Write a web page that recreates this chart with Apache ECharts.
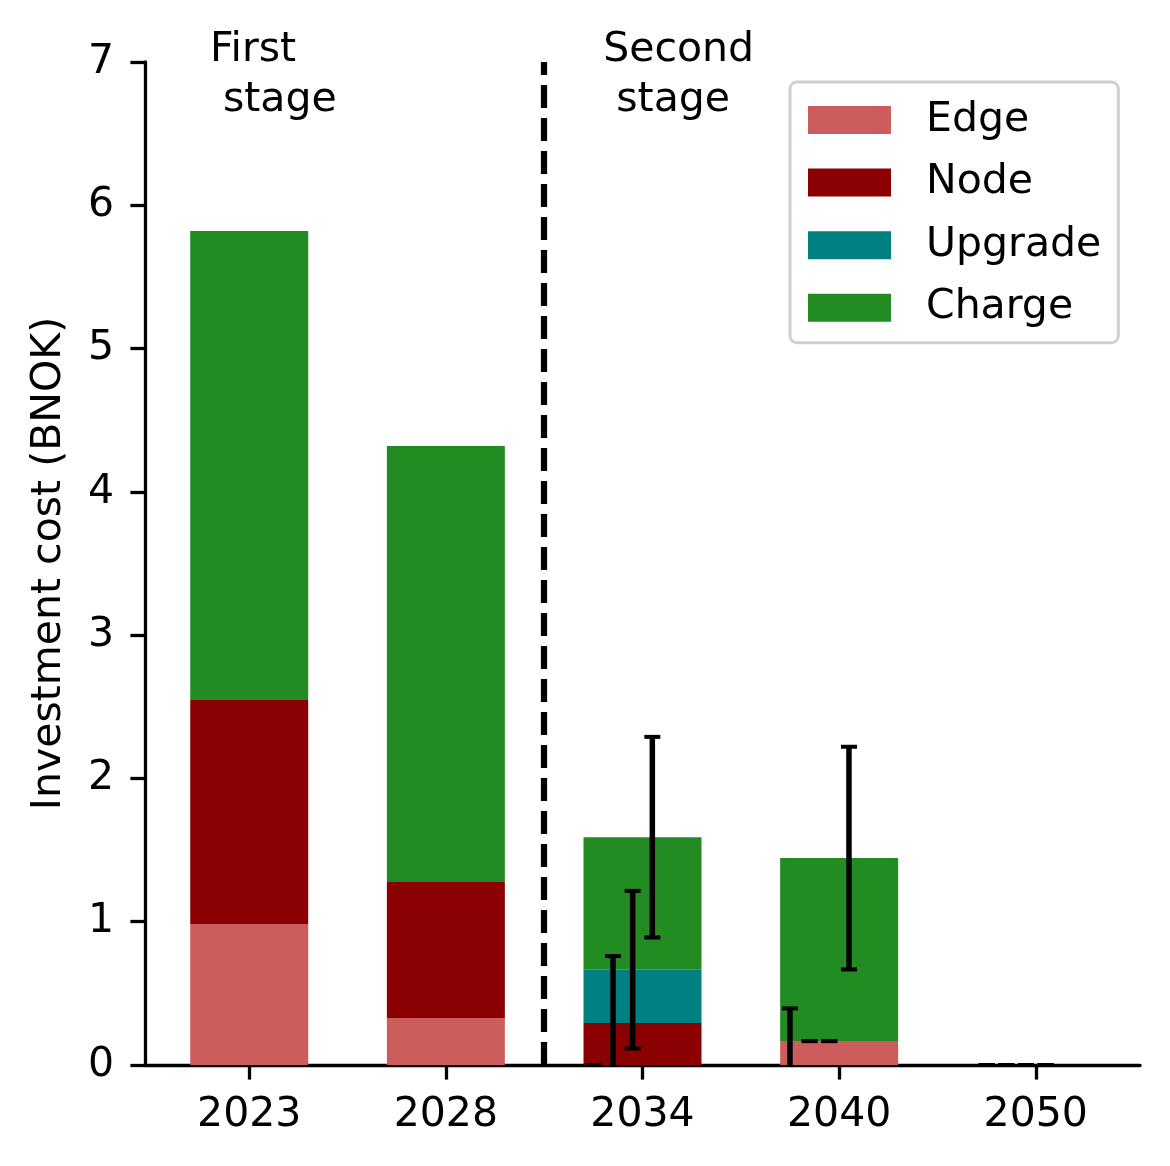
<!DOCTYPE html>
<html><head><meta charset="utf-8">
<script src="https://cdn.jsdelivr.net/npm/echarts@6/dist/echarts.min.js"></script>
<style>html,body{margin:0;padding:0;background:#fff}#c{width:1170px;height:1166px}</style>
</head><body><div id="c"></div>
<script>
// ---- data ----
const years = ['2023', '2028', '2034', '2040', '2050'];
const edge = [0.984, 0.328, 0, 0.167, 0];
const node = [1.563, 0.949, 0.293, 0, 0];
const upgrade = [0, 0, 0.372, 0, 0];
const charge = [3.273, 3.043, 0.925, 1.277, 0];
// standard deviations (second stage only)
const edgeStd = [null, null, 0, 0.228, 0];
const nodeStd = [null, null, 0.467, 0, 0];
const upgradeStd = [null, null, 0.55, 0, 0];
const chargeStd = [null, null, 0.70, 0.777, 0];
const seriesNames = ['Edge', 'Node', 'Upgrade', 'Charge'];
const stageBoundary = 1.5;
const stageLabels = ['First\n stage', 'Second\n stage'];
const stageLabelX = [-0.2, 1.8];
const stageLabelY = [7.255, 7.255];

// ---- styling ----
const FONT = 'DejaVu Sans';
const colors = ['#CD5C5C', '#8B0000', '#008080', '#228B22'];
const errOffsets = [-0.25, -0.15, -0.05, 0.05];
const barFrac = 0.6;

const comps = [edge, node, upgrade, charge];
const stds = [edgeStd, nodeStd, upgradeStd, chargeStd];
function cumBelow(k, i) { let c = 0; for (let j = 0; j < k; j++) c += comps[j][i]; return c; }

const errData = [];
for (let k = 0; k < 4; k++) {
  for (let i = 0; i < years.length; i++) {
    if (stds[k][i] === null) continue;
    errData.push([i + errOffsets[k], cumBelow(k, i) + comps[k][i], stds[k][i]]);
  }
}

const chart = echarts.init(document.getElementById('c'), null, {renderer: 'canvas'});

const barSeries = seriesNames.map((n, k) => ({
  name: n, type: 'custom', z: 2, silent: true,
  itemStyle: {color: colors[k]},
  encode: {x: 0, y: [1, 2]},
  data: comps[k].map((v, i) => [i, cumBelow(k, i), cumBelow(k, i) + v]),
  renderItem: (params, api) => {
    const x = api.value(0);
    const b = api.coord([x, api.value(1)]);
    const t = api.coord([x, api.value(2)]);
    const w = api.size([barFrac, 0])[0];
    if (Math.abs(b[1] - t[1]) < 0.01) return null;
    return {type: 'rect', shape: {x: b[0] - w / 2, y: t[1], width: w, height: b[1] - t[1]},
      style: {fill: colors[k]}};
  }
}));
barSeries[3].markLine = {
  symbol: 'none', silent: true, label: {show: false},
  lineStyle: {type: [23, 10], width: 6.25, color: '#000'},
  data: [{xAxis: stageBoundary}]
};

chart.setOption({
  animation: false,
  backgroundColor: '#fff',
  grid: {left: 145, right: 30, top: 62, bottom: 101},
  legend: {
    data: seriesNames, orient: 'vertical', left: 790, top: 82,
    icon: 'rect', itemWidth: 83, itemHeight: 28, itemGap: 21.6,
    textStyle: {fontSize: 41, fontFamily: FONT, color: '#000', lineHeight: 41, padding: [0, 0, 0, 30]},
    borderColor: '#d0d0d0', borderWidth: 3, borderRadius: 7,
    padding: [17.5, 17, 14.5, 18], backgroundColor: '#fff'
  },
  xAxis: {
    type: 'value', min: -0.53, max: 4.53,
    splitLine: {show: false},
    axisLine: {show: true, lineStyle: {color: '#000', width: 3.3}},
    axisTick: {show: true, length: 14.6, lineStyle: {color: '#000', width: 3.3}, customValues: [0, 1, 2, 3, 4]},
    axisLabel: {customValues: [0, 1, 2, 3, 4], formatter: v => years[Math.round(v)], fontSize: 41, fontFamily: FONT, color: '#000', margin: 30}
  },
  yAxis: {
    type: 'value', min: 0, max: 7, interval: 1,
    name: 'Investment cost (BNOK)', nameLocation: 'middle', nameGap: 75,
    nameTextStyle: {fontSize: 41, fontFamily: FONT, color: '#000'},
    splitLine: {show: false},
    axisLine: {show: true, onZero: false, lineStyle: {color: '#000', width: 3.3}},
    axisTick: {show: true, length: 14.6, lineStyle: {color: '#000', width: 3.3}},
    axisLabel: {fontSize: 41, fontFamily: FONT, color: '#000', margin: 31}
  },
  series: barSeries.concat([
    {
      type: 'custom', clip: true, z: 5, silent: true,
      encode: {x: 0, y: 1},
      data: errData,
      renderItem: (params, api) => {
        const x = api.value(0), c = api.value(1), s = api.value(2);
        const lo = api.coord([x, c - s]), hi = api.coord([x, c + s]);
        const hw = 8;
        const st = {stroke: '#000', lineWidth: 5.5};
        const cst = {stroke: '#000', lineWidth: 4};
        return {type: 'group', children: [
          {type: 'line', shape: {x1: lo[0], y1: lo[1], x2: hi[0], y2: hi[1]}, style: st},
          {type: 'line', shape: {x1: lo[0] - hw, y1: lo[1], x2: lo[0] + hw, y2: lo[1]}, style: cst},
          {type: 'line', shape: {x1: hi[0] - hw, y1: hi[1], x2: hi[0] + hw, y2: hi[1]}, style: cst}
        ]};
      }
    },
    {
      type: 'custom', clip: false, z: 6, silent: true,
      encode: {x: 0, y: 1},
      data: stageLabels.map((t, i) => [stageLabelX[i], stageLabelY[i], i]),
      renderItem: (params, api) => {
        const p = api.coord([api.value(0), api.value(1)]);
        return {type: 'text', x: p[0], y: p[1], style: {
          text: stageLabels[api.value(2)], fontSize: 41, fontFamily: FONT, fill: '#000',
          align: 'left', verticalAlign: 'top', lineHeight: 50
        }};
      }
    }
  ])
});
</script></body></html>
